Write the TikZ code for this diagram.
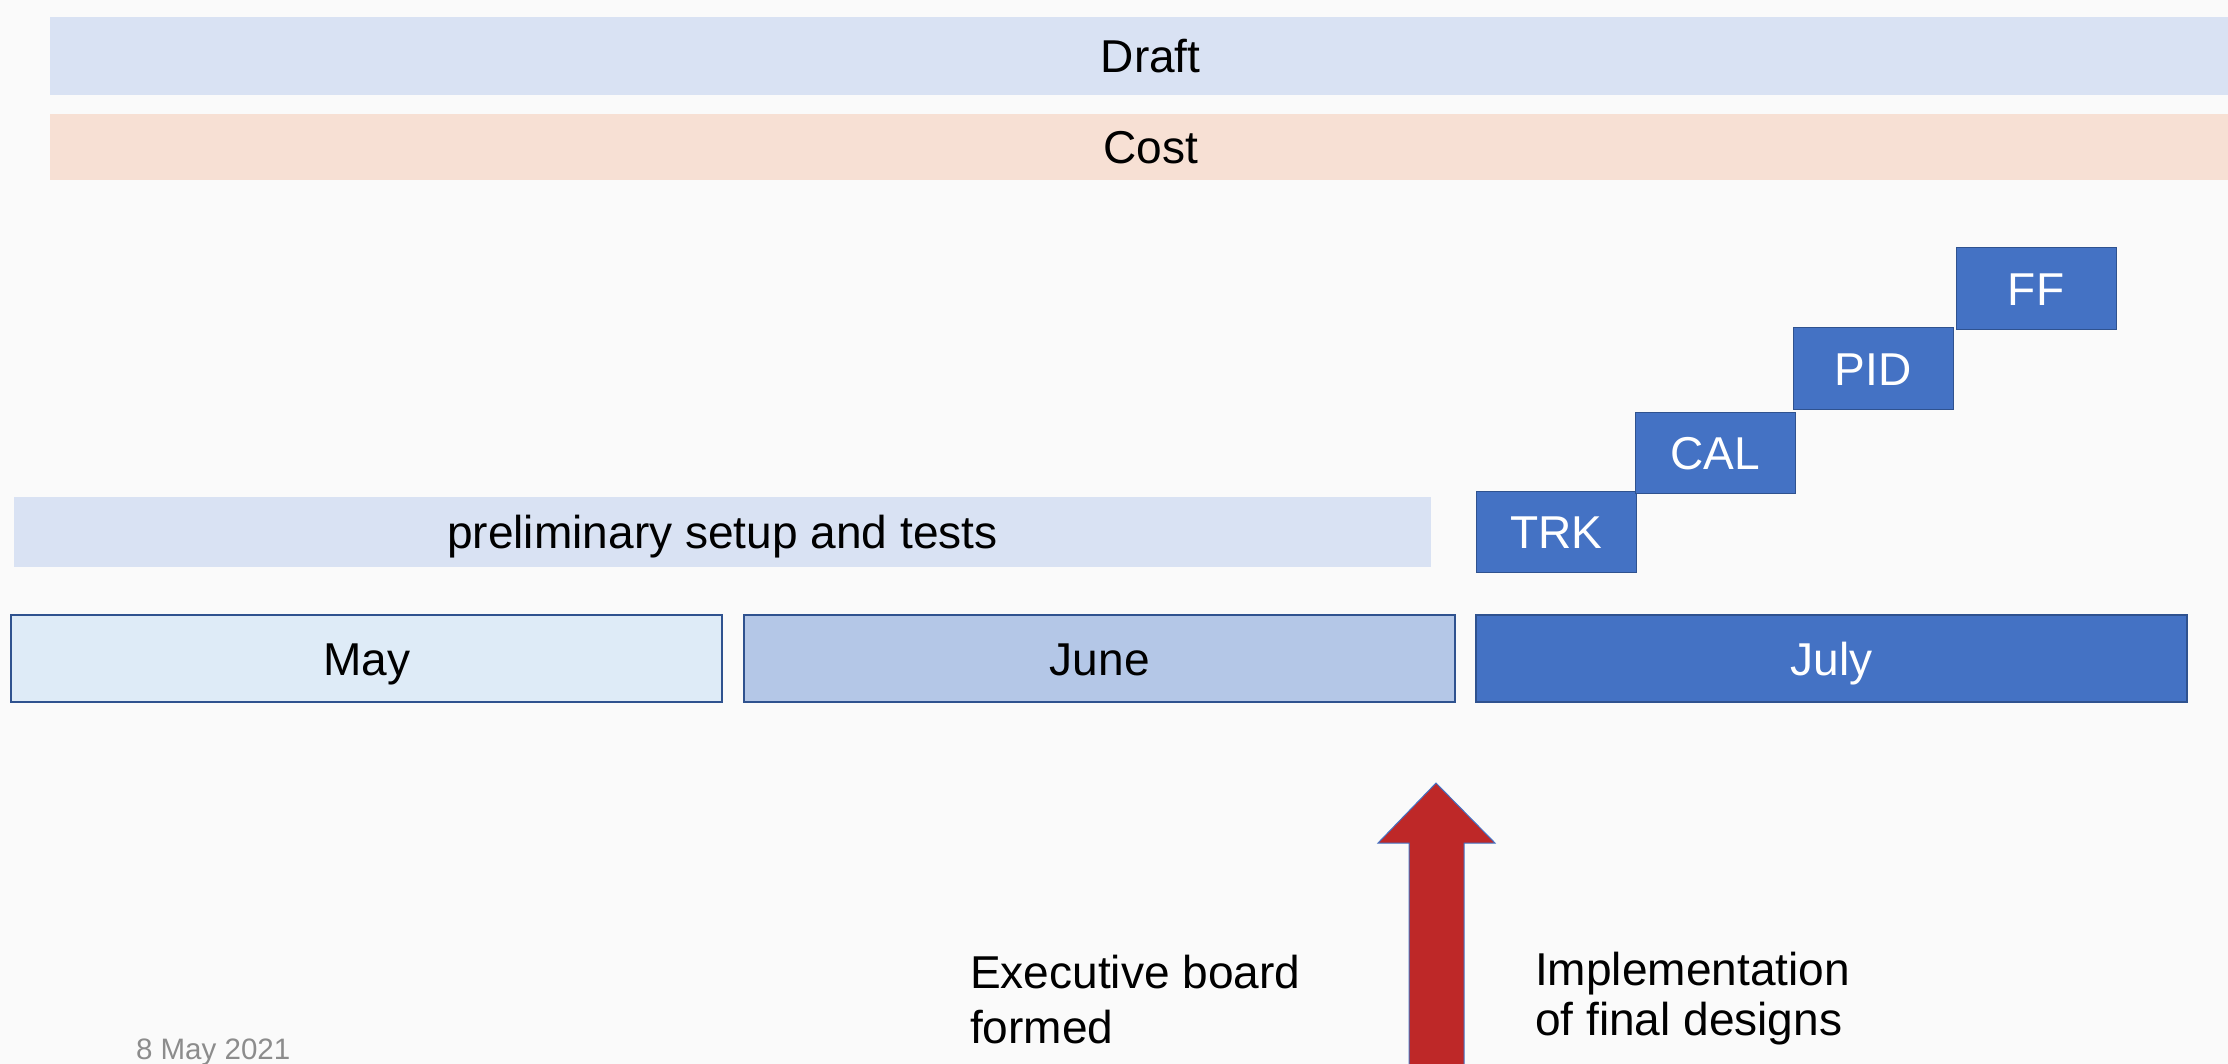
\documentclass[tikz,border=0pt]{standalone}
\usepackage{fontspec}
\setmainfont{Liberation Sans}
\definecolor{paper}{HTML}{FAFAFA}
\definecolor{draftblue}{HTML}{D9E2F3}
\definecolor{costpeach}{HTML}{F7E0D4}
\definecolor{maylight}{HTML}{DEEBF7}
\definecolor{junemid}{HTML}{B4C7E7}
\definecolor{julyblue}{HTML}{4472C4}
\definecolor{boxedge}{HTML}{2F528F}
\definecolor{arrowred}{HTML}{BE2828}
\definecolor{dategray}{HTML}{8C8C8C}

\begin{document}
\begin{tikzpicture}[x=0.01cm, y=-0.01cm, node distance=0 cm, outer sep=0pt]

\tikzstyle{bar}=[rectangle, anchor=north west, inner sep=0pt, font=\fontsize{13.1pt}{15.6pt}\selectfont, text height=0.33cm, text depth=0cm]
\tikzstyle{month}=[bar, draw=boxedge, line width=0.02cm, minimum width=7.11cm, minimum height=0.87cm]
\tikzstyle{task}=[bar, fill=julyblue, draw=boxedge, line width=0.01cm, text=white, minimum width=1.6cm, minimum height=0.81cm]
\tikzstyle{note}=[anchor=north west, inner sep=0pt, align=left, font=\fontsize{13.1pt}{15.6pt}\selectfont]

\useasboundingbox (0,0) rectangle (2228,1064);
\clip (0,0) rectangle (2228,1064);
\fill[paper] (0,0) rectangle (2228,1064);

\node[bar, fill=draftblue, minimum width=22cm, minimum height=0.78cm] (draft) at (50,17) {Draft};
\node[bar, fill=costpeach, minimum width=22cm, minimum height=0.66cm] (cost) at (50,114) {Cost};
\node[bar, fill=draftblue, minimum width=14.16cm, minimum height=0.7cm] (prelim) at (14,497) {preliminary setup and tests};

\node[month, fill=maylight] (may) at (11,615) {May}; \node[month, fill=junemid] (june) at (744,615) {June};
\node[month, fill=julyblue, text=white] (july) at (1476,615) {July};

\node[task] (trk) at (1476,491) {TRK}; \node[task] (cal) at (1635,412) {CAL};
\node[task] (pid) at (1793,328) {PID}; \node[task] (ff) at (1956,248) {FF};

\filldraw[fill=arrowred, draw=julyblue, line width=0.01cm] (1409,1064) -- (1409,843) -- (1378,843) -- (1436,783) -- (1495,843) -- (1464,843) -- (1464,1064);

\node[note] (board) at (970,955) {Executive board\\formed};
\node[note, font=\fontsize{13.1pt}{14.2pt}\selectfont] (impl) at (1535,952) {Implementation\\of final designs};
\node[anchor=base west, inner sep=0pt, text=dategray, font=\fontsize{8.4pt}{10pt}\selectfont] (date) at (136,1059) {8 May 2021};

\end{tikzpicture}
\end{document}
